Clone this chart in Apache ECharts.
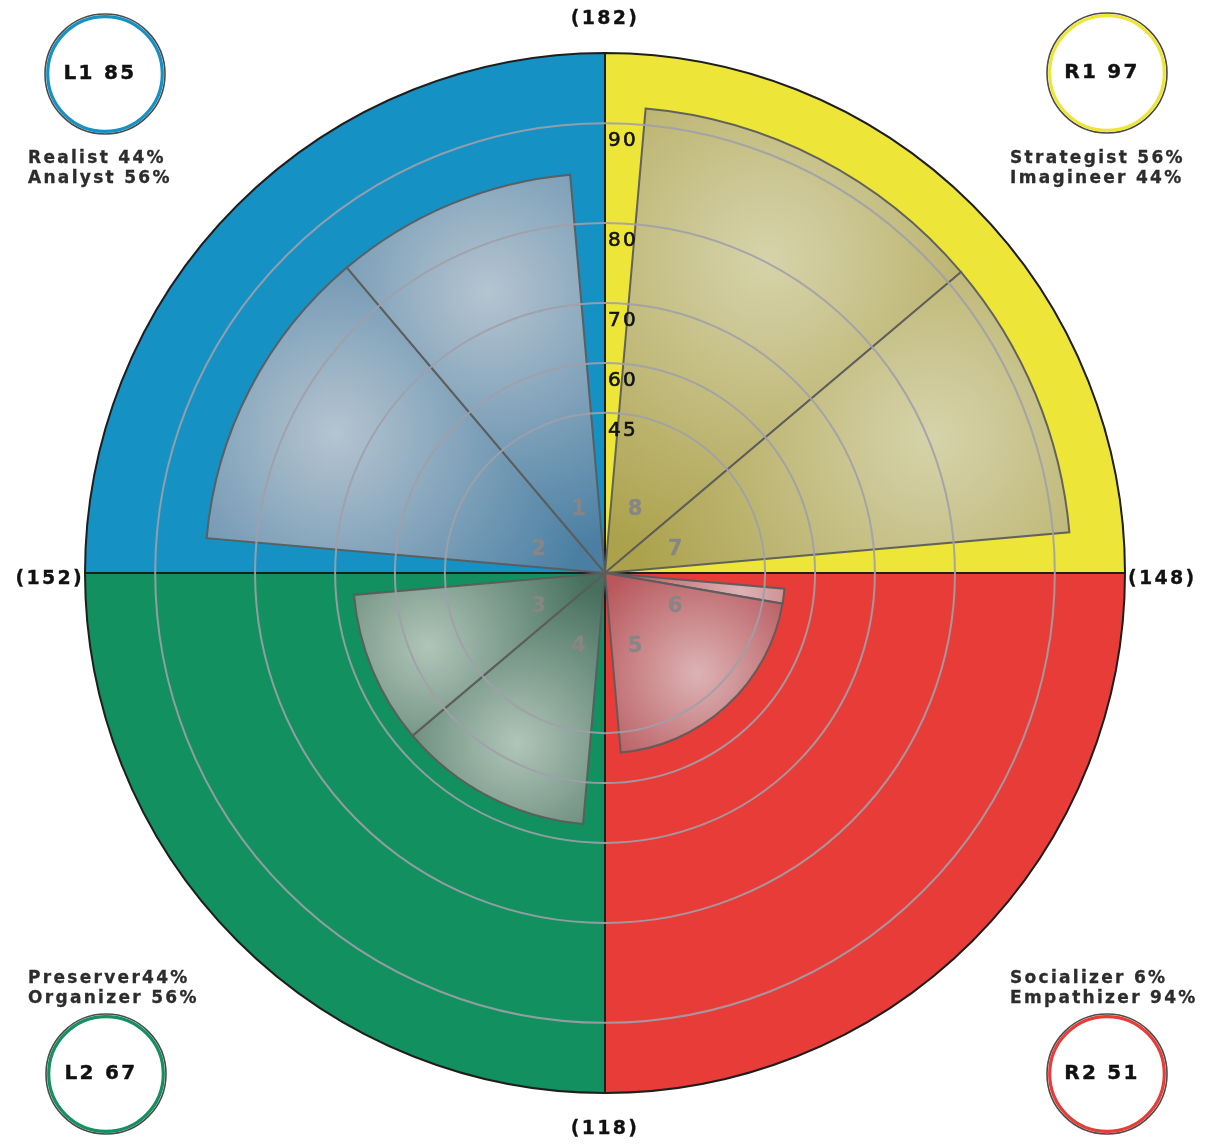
<!DOCTYPE html>
<html><head><meta charset="utf-8">
<script src="https://cdn.jsdelivr.net/npm/echarts@6/dist/echarts.min.js"></script>
<style>html,body{margin:0;padding:0;background:#fff}#c{width:1212px;height:1144px}</style>
</head><body><div id="c"></div>
<script>
// ---------------- DATA ----------------
// quadrants clockwise from 12 o'clock
const quadrants = ['R1', 'R2', 'L2', 'L1'];
const quadrantScores = [97, 51, 67, 85];
// sectors clockwise from 12 o'clock (two per quadrant)
const sectorIds = [8, 7, 6, 5, 4, 3, 2, 1];
const sectorNames = ['Strategist', 'Imagineer', 'Socializer', 'Empathizer', 'Organizer', 'Preserver', 'Analyst', 'Realist'];
const sectorShares = [56, 44, 6, 94, 56, 44, 56, 44];
const legendLines = [
  ['Strategist 56%', 'Imagineer 44%'],
  ['Socializer 6%', 'Empathizer 94%'],
  ['Preserver44%', 'Organizer 56%'],
  ['Realist 44%', 'Analyst 56%']
];
const ringTicks = [45, 60, 70, 80, 90];
// non-linear radial scale: score value -> percent of radius
const scaleValues = [0, 45, 60, 70, 80, 90, 120];
const scaleStops = [0, 30.8, 40.4, 51.9, 67.3, 86.5, 100];

// ---------------- STYLE ----------------
const FONT = '"DejaVu Sans", Verdana, sans-serif';
const quadColors = ['#ede638', '#e83c38', '#12905f', '#1591c4'];
const wedgeLight = ['#d6d3ab', '#dcb3b5', '#b0c5b9', '#b5c4d0'];
const wedgeDark = ['#aca24c', '#b8585c', '#466f5d', '#4a7fa3'];
const GAP = 5, SPAN = 80;

// letter spacing for all canvas text (the reference uses widely spaced text)
(function () {
  const P = CanvasRenderingContext2D.prototype;
  if (!('letterSpacing' in P)) return;
  const LS = '2.3px';
  const f = P.fillText, s = P.strokeText, m = P.measureText;
  P.fillText = function () { this.letterSpacing = LS; return f.apply(this, arguments); };
  P.strokeText = function () { this.letterSpacing = LS; return s.apply(this, arguments); };
  P.measureText = function () { this.letterSpacing = LS; return m.apply(this, arguments); };
})();

function toAxis(v) {
  for (let i = 1; i < scaleValues.length; i++) {
    if (v <= scaleValues[i]) {
      const t = (v - scaleValues[i - 1]) / (scaleValues[i] - scaleValues[i - 1]);
      return scaleStops[i - 1] + t * (scaleStops[i] - scaleStops[i - 1]);
    }
  }
  return scaleStops[scaleStops.length - 1];
}
const AXIS_MAX = toAxis(scaleValues[scaleValues.length - 1]);

// wedge data
const wedgeData = [];
quadrants.forEach((q, qi) => {
  let a = qi * 90 + GAP;
  for (let k = 0; k < 2; k++) {
    const si = qi * 2 + k;
    const w = SPAN * sectorShares[si] / 100;
    wedgeData.push([toAxis(quadrantScores[qi]), a, a + w, qi, sectorNames[si]]);
    a += w;
  }
});

function screenAngle(cs, p) { return Math.atan2(p[1] - cs.cy, p[0] - cs.cx); }
function dist(cs, p) { return Math.hypot(p[0] - cs.cx, p[1] - cs.cy); }
function txt(text, size, fill, weight, align, outline) {
  const s = { text: text, fill: fill, fontSize: size, fontWeight: weight, fontFamily: FONT, align: align, verticalAlign: 'middle' };
  if (outline) { s.stroke = fill; s.lineWidth = outline; }
  return s;
}

const chart = echarts.init(document.getElementById('c'));

const badgePos = [[1107, 73], [1107, 1074], [106, 1074], [105, 74]];
const legendPos = [[1010, 158], [1010, 978], [28, 978], [28, 158]];
const graphic = [];
quadrants.forEach((q, i) => {
  const [bx, by] = badgePos[i];
  graphic.push({ type: 'circle', shape: { cx: bx, cy: by, r: 60 }, style: { fill: '#fff', stroke: '#4a4a4a', lineWidth: 1.6 }, z: 10 });
  graphic.push({ type: 'circle', shape: { cx: bx, cy: by, r: 57.3 }, style: { fill: '#fff', stroke: quadColors[i], lineWidth: 3.2 }, z: 10 });
  graphic.push({ type: 'text', x: bx - 5, y: by, z: 11, style: txt(q + ' ' + quadrantScores[i], 20, '#111', 'bold', 'center', 0.4) });
  const [lx, ly] = legendPos[i];
  legendLines[i].forEach((t, j) => {
    graphic.push({ type: 'text', x: lx, y: ly + j * 20 + 1, z: 11, style: txt(t, 17, '#2c2c2c', 'bold', 'left', 0.3) });
  });
});

const option = {
  animation: false,
  backgroundColor: '#fff',
  polar: { center: [605, 573], radius: 520 },
  angleAxis: { type: 'value', min: 0, max: 360, startAngle: 90, clockwise: true, show: false },
  radiusAxis: { type: 'value', min: 0, max: AXIS_MAX, show: false },
  graphic: graphic,
  series: [
    { // quadrant backgrounds
      type: 'custom', coordinateSystem: 'polar', z: 1, silent: true,
      data: quadrants.map((q, i) => [AXIS_MAX, i * 90, i * 90 + 90, i]),
      renderItem: function (params, api) {
        const cs = params.coordSys;
        const p0 = api.coord([api.value(0), api.value(1)]);
        const p1 = api.coord([api.value(0), api.value(2)]);
        return { type: 'sector', shape: { cx: cs.cx, cy: cs.cy, r0: 0, r: dist(cs, p0), startAngle: screenAngle(cs, p0), endAngle: screenAngle(cs, p1), clockwise: true },
          style: { fill: quadColors[api.value(3)], stroke: '#1e1e1e', lineWidth: 2 } };
      }
    },
    { // wedges
      type: 'custom', coordinateSystem: 'polar', z: 2, silent: true,
      data: wedgeData,
      renderItem: function (params, api) {
        const cs = params.coordSys;
        const rv = api.value(0), a0 = api.value(1), a1 = api.value(2), q = api.value(3);
        const p0 = api.coord([rv, a0]), p1 = api.coord([rv, a1]), pm = api.coord([rv, (a0 + a1) / 2]);
        const r = dist(cs, p0);
        const gx = cs.cx + 0.76 * (pm[0] - cs.cx), gy = cs.cy + 0.76 * (pm[1] - cs.cy);
        return { type: 'sector', shape: { cx: cs.cx, cy: cs.cy, r0: 0, r: r, startAngle: screenAngle(cs, p0), endAngle: screenAngle(cs, p1), clockwise: true },
          style: { fill: new echarts.graphic.RadialGradient(gx, gy, r * 0.68, [{ offset: 0, color: wedgeLight[q] }, { offset: 1, color: wedgeDark[q] }], true), stroke: 'rgba(92,92,92,0.95)', lineWidth: 2 } };
      }
    },
    { // rings + ring labels
      type: 'custom', coordinateSystem: 'polar', z: 3, silent: true,
      data: ringTicks.map(t => [toAxis(t), 0, t]),
      renderItem: function (params, api) {
        const cs = params.coordSys;
        const p = api.coord([api.value(0), api.value(1)]);
        return { type: 'group', children: [
          { type: 'circle', shape: { cx: cs.cx, cy: cs.cy, r: dist(cs, p) }, style: { fill: 'none', stroke: 'rgba(160,160,168,0.9)', lineWidth: 2 } },
          { type: 'text', x: p[0] + 3, y: p[1] + 18, z2: 5, style: txt(String(api.value(2)), 20, '#111', 'normal', 'left', 0.6) }
        ] };
      }
    },
    { // sector numbers
      type: 'custom', coordinateSystem: 'polar', z: 4, silent: true,
      data: sectorIds.map((id, i) => [14.2, 22.5 + 45 * i, id]),
      renderItem: function (params, api) {
        const p = api.coord([api.value(0), api.value(1)]);
        return { type: 'text', x: p[0] + 3, y: p[1] + 5, style: txt(String(api.value(2)), 21, '#868686', 'bold', 'center', 0.3) };
      }
    },
    { // neighbouring-quadrant sums
      type: 'custom', coordinateSystem: 'polar', z: 4, silent: true,
      data: quadrants.map((q, i) => [AXIS_MAX, 90 * i, quadrantScores[(i + 3) % 4] + quadrantScores[i], i]),
      renderItem: function (params, api) {
        const p = api.coord([api.value(0), api.value(1)]);
        const i = api.value(3);
        const off = [[0, -34, 'center'], [3, 6, 'left'], [0, 36, 'center'], [-1, 6, 'right']][i];
        return { type: 'text', x: p[0] + off[0], y: p[1] + off[1], style: txt('(' + api.value(2) + ')', 19, '#111', 'bold', off[2], 0.3) };
      }
    }
  ]
};
chart.setOption(option);
</script>
</body></html>
